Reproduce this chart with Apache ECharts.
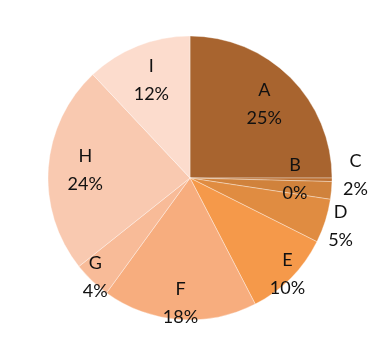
<!DOCTYPE html>
<html lang="en">

<head>
    <meta charset="UTF-8">
    <title>Pie</title>
    <script src="https://cdn.jsdelivr.net/npm/echarts@6/dist/echarts.min.js"></script>
    <style>
        html, body { margin: 0; padding: 0; background: #fff; }
    </style>
</head>

<body>
    <div id="main" style="width:385px;height:354px"></div>
    <script>
        var names = ['A', 'B', 'C', 'D', 'E', 'F', 'G', 'H', 'I'];
        var values = [25, 0.4, 2, 5, 10, 17.6, 4.3, 23.7, 12];
        var colors = ['#A8642F', '#BC7032', '#D0823C', '#E08C41', '#F5994A', '#F7AD7E', '#F8BB98', '#F9C9B0', '#FCDCCD'];

        // which ring each label sits on
        var innerLabels = ['A', 'B', 'H', 'I'];
        var lowLabels = ['F'];
        var edgeLabels = ['E', 'G'];
        var outerLabels = ['D'];
        var sideLabels = ['C'];

        var center = [190, 178];
        var R = 142;

        function pct(p) {
            return Math.round(p.percent) + '%';
        }

        function labelRing(list, radius, label) {
            return {
                type: 'pie',
                center: center,
                radius: radius,
                startAngle: 90,
                silent: true,
                animation: false,
                avoidLabelOverlap: false,
                labelLayout: { hideOverlap: false },
                emphasis: { disabled: true },
                labelLine: { show: false, length: 6, length2: 0 },
                data: names.map(function (n, i) {
                    return {
                        name: n,
                        value: values[i],
                        itemStyle: { color: 'rgba(0,0,0,0)' },
                        label: { show: list.indexOf(n) >= 0 }
                    };
                }),
                label: label
            };
        }

        var insideLabel = {
            position: 'inside',
            color: '#111',
            fontFamily: 'Lato',
            fontSize: 18,
            lineHeight: 28,
            formatter: function (p) {
                return p.name + '\n' + pct(p);
            }
        };

        var outsideLabel = {
            position: 'outside',
            color: '#111',
            offset: [0, -16],
            formatter: function (p) {
                return '{t|' + p.name + '}\n{t|' + pct(p) + '}';
            },
            rich: {
                t: { width: 26, align: 'center', fontFamily: 'Lato', fontSize: 18, lineHeight: 28, color: '#111' }
            }
        };

        var myChart = echarts.init(document.getElementById('main'));
        var option = {
            series: [
                {
                    type: 'pie',
                    center: center,
                    radius: [0, R],
                    startAngle: 90,
                    animation: false,
                    label: { show: false },
                    labelLine: { show: false },
                    itemStyle: {
                        borderColor: 'rgba(255,255,255,0.5)',
                        borderWidth: 0.7
                    },
                    data: names.map(function (n, i) {
                        return { name: n, value: values[i], itemStyle: { color: colors[i] } };
                    })
                },
                labelRing(innerLabels, [62, R], insideLabel),
                labelRing(lowLabels, [104, R], insideLabel),
                labelRing(edgeLabels, [126, R], insideLabel),
                labelRing(outerLabels, [130, 180], insideLabel),
                labelRing(sideLabels, [0, R], outsideLabel)
            ]
        };
        myChart.setOption(option);
    </script>
</body>

</html>
